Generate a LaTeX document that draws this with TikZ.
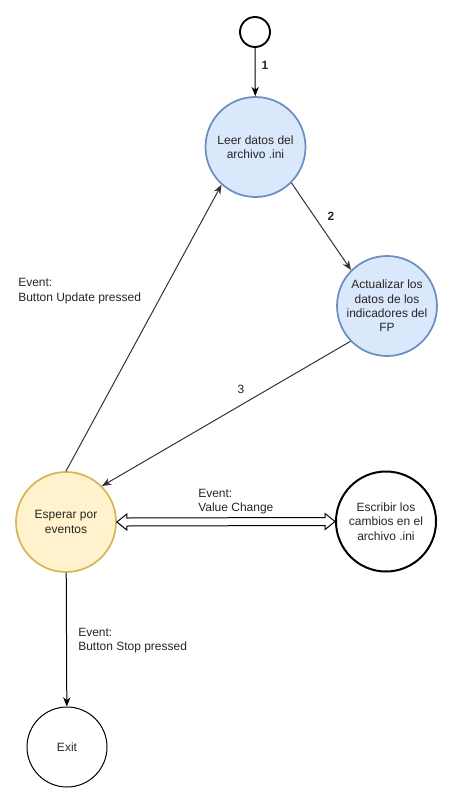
\documentclass[tikz,border=0pt]{standalone}
\usepackage{fontspec}
\setmainfont{Liberation Sans}
\usepackage{tikz}
\usetikzlibrary{arrows.meta,calc}

\definecolor{blueFill}{HTML}{DAE8FC}
\definecolor{blueLine}{HTML}{6C8EBF}
\definecolor{yellowFill}{HTML}{FFF2CC}
\definecolor{yellowLine}{HTML}{D6B656}
\definecolor{edgeGray}{HTML}{333333}

\tikzset{
  state/.style={circle, inner sep=0pt, minimum size=75pt, align=center,
    font=\fontsize{9}{10.8}\selectfont, text=black!85},
  bluestate/.style={state, draw=blueLine, fill=blueFill, line width=1.3pt},
  edge/.style={-{Stealth[length=7pt,width=5.5pt]}, draw=edgeGray, line width=0.75pt},
  lbl/.style={font=\fontsize{9}{10.8}\selectfont, text=black!85, align=left, inner sep=0pt}
}

\begin{document}
\begin{tikzpicture}[x=0.75pt, y=-0.75pt]

\useasboundingbox (0, 0) rectangle (452, 802);

\node[circle, draw, line width=1.4pt, minimum size=22.5pt, inner sep=0pt] (start) at (255, 32) {};
\node[bluestate] (leer) at (255.5, 147) {Leer datos del\\archivo .ini};
\node[bluestate] (act) at (387, 306) {Actualizar los\\datos de los\\indicadores del\\FP};
\node[state, draw=yellowLine, fill=yellowFill, line width=1.3pt] (esp) at (66, 522) {Esperar por\\eventos};
\node[state, draw=black, fill=white, line width=1.5pt] (esc) at (386, 521.5) {Escribir los\\cambios en el\\archivo .ini};
\node[state, draw=black, fill=white, line width=0.75pt, minimum size=60pt] (exit) at (67, 747) {Exit};

\draw[edge, draw=black] (start) -- (leer);
\draw[edge] (leer.-45) -- (act.135);
\draw[edge] (act.224) -- (esp.45);
\draw[edge] (esp.north) -- (leer.228);
\draw[edge, draw=black] (esp) -- (exit);

% double arrow
\draw[line width=0.75pt, fill=white] (esp.east) -- ++(10, -8) -- ++(0, 4)
  -- ($(esc.west)+(-10, -4)$) -- ++(0, -4) -- (esc.west) -- ++(-10, 8) -- ++(0, -4)
  -- ($(esp.east)+(10, 4)$) -- ++(0, 4) -- cycle;

\node[lbl, font=\fontsize{9}{10.8}\selectfont\bfseries] (n1) at (265, 65) {1};
\node[lbl, font=\fontsize{9}{10.8}\selectfont\bfseries] (n2) at (331, 216) {2};
\node[lbl] (n3) at (241, 389) {3};
\node[lbl, anchor=west] (evUpd) at (18, 291) {Event:\\Button Update pressed};
\node[lbl, anchor=west] (evVal) at (198, 501.5) {Event:\\Value Change};
\node[lbl, anchor=west] (evStop) at (78, 640.5) {Event:\\Button Stop pressed};

\end{tikzpicture}
\end{document}
